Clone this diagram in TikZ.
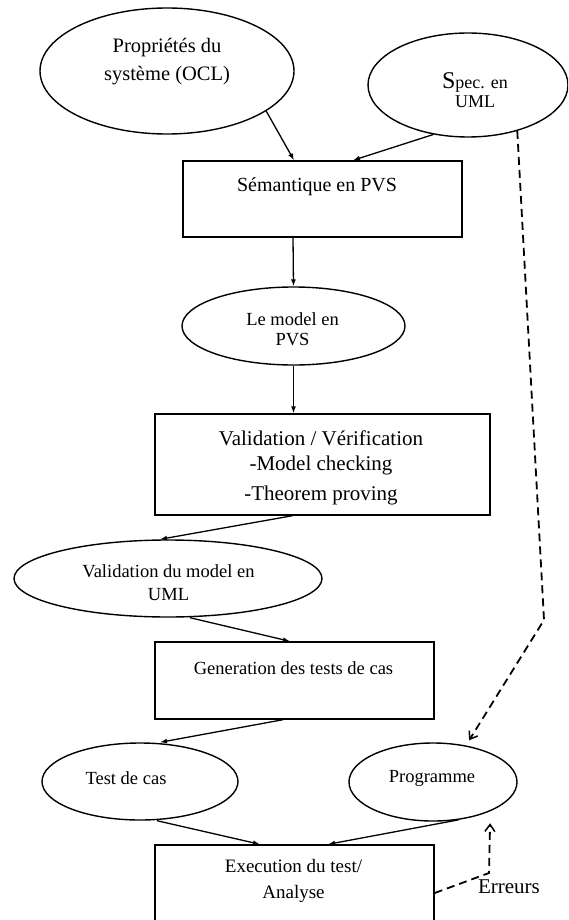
\documentclass[tikz,border=0pt]{standalone}
\usepackage{fontspec}
\setmainfont{Liberation Serif}
\usetikzlibrary{shapes.geometric,arrows.meta,calc}
\begin{document}
\begin{tikzpicture}[x=1pt,y=-1pt,
  shapeline/.style={draw=black, line width=1.4pt},
  oval/.style={shapeline, ellipse, inner sep=0pt},
  boxr/.style={shapeline, rectangle, inner sep=0pt},
  lbl/.style={font=\fontsize{18.5}{22}\selectfont, align=center, inner sep=0pt},
  arr/.style={line width=1.3pt, -{Latex[length=7pt,width=5pt]}},
  darr/.style={line width=1.8pt, dash pattern=on 8pt off 5pt, -{Straight Barb[length=7pt,width=10pt,line width=1.5pt]}},
]
\useasboundingbox (0,0) rectangle (568,920);
\clip (0,0) rectangle (568,920);
\fill[white] (0,0) rectangle (568,920);

% shapes
\node[oval, minimum width=254pt, minimum height=126pt] (prop) at (167,71) {};
\node[oval, minimum width=200pt, minimum height=104pt] (spec) at (468,85) {};
\node[boxr, minimum width=279pt, minimum height=76pt] (sem) at (322.5,199) {};
\node[oval, minimum width=223pt, minimum height=78pt] (model) at (293.5,326) {};
\node[boxr, minimum width=335pt, minimum height=101pt] (vv) at (322.5,464.5) {};
\node[oval, minimum width=308pt, minimum height=77pt] (valuml) at (168,578.5) {};
\node[boxr, minimum width=279pt, minimum height=77pt] (gen) at (294.5,680.5) {};
\node[oval, minimum width=196pt, minimum height=77pt] (test) at (140,781.5) {};
\node[oval, minimum width=168pt, minimum height=78pt] (prog) at (433,782) {};
\node[boxr, minimum width=279pt, minimum height=80pt] (exec) at (294.5,885) {};

% texts
\node[lbl, font=\fontsize{20.5}{28}\selectfont] (tprop) at (167,62) {Propriétés du\\système (OCL)};
\node[lbl, font=\fontsize{18}{19}\selectfont] (tspec) at (475,90) {{\fontsize{24}{24}\selectfont S}pec. en\\UML};
\node[lbl, font=\fontsize{20}{24}\selectfont] (tsem) at (317,187) {Sémantique en PVS};
\node[lbl, font=\fontsize{18.5}{20}\selectfont] (tmodel) at (292.5,329) {Le model en\\PVS};
\node[lbl, font=\fontsize{21}{25}\selectfont] (tvv) at (321,468) {Validation / Vérification\\-Model checking\\[5pt]-Theorem proving};
\node[lbl, font=\fontsize{18.5}{23}\selectfont] (tvaluml) at (168.5,583) {Validation du model en\\UML};
\node[lbl] (tgen) at (293.5,668) {Generation des tests de cas};
\node[lbl] (ttest) at (126,778) {Test de cas};
\node[lbl] (tprog) at (432,778) {Programme};
\node[lbl, font=\fontsize{19}{26}\selectfont] (texec) at (293.5,881) {Execution du test/\\Analyse};
\node[lbl, font=\fontsize{21}{24}\selectfont] (terr) at (509,887) {Erreurs};

% solid connectors
\draw[arr] (prop.-22) -- ([xshift=-28.5pt]sem.north);
\draw[arr] (spec.-125) -- ([xshift=30.5pt]sem.north);
\draw[arr] ([xshift=-29.5pt]sem.south) -- (model.north);
\draw[arr] (model.south) -- ([xshift=-29pt]vv.north);
\draw[arr] ([xshift=-30pt]vv.south) -- ([xshift=-8pt]valuml.north);
\draw[arr] ([xshift=22pt]valuml.south) -- ([xshift=-4.5pt]gen.north);
\draw[arr] ([xshift=-11.5pt]gen.south) -- ([xshift=20pt]test.north);
\draw[arr] ([xshift=17pt]test.south) -- ([xshift=-34.5pt]exec.north);
\draw[arr] (prog.-56) -- ([xshift=33.5pt]exec.north);

% dashed connectors
\coordinate (bend) at (544,620);
\draw[darr, shorten >=6pt] (spec.-43) -- (bend) -- (prog.48);
\coordinate (ecorner) at (489,873);
\draw[darr, shorten >=12pt] ([yshift=-8pt]exec.east) -- (ecorner) -- (prog.-27);
\end{tikzpicture}
\end{document}
